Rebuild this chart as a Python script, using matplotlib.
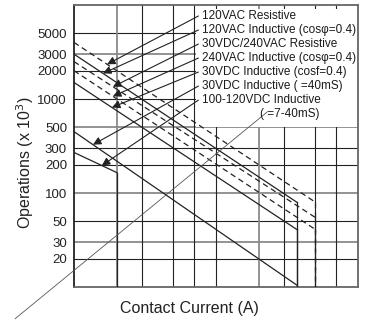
import numpy as np
import matplotlib
matplotlib.use('Agg')
from matplotlib import pyplot as plt
from matplotlib.patches import Rectangle
from matplotlib.ticker import NullLocator

plt.rcParams['font.family'] = ['Liberation Sans', 'DejaVu Sans']

# life curves: (current A, operations x10^3)
curve_x = [[1, 50], [1, 37], [1, 50], [1, 50], [1, 37], [1, 37], [1, 2]]
curve_y = [[4000, 80], [3000, 80], [2500, 55], [2000, 41], [1500, 41], [450, 10.5], [270, 165]]
curve_dashed = [True, False, True, True, False, False, False]
curve_drop = [True, True, True, True, True, False, True]

labels = ['120VAC Resistive',
          '120VAC Inductive (cosφ=0.4)',
          '30VDC/240VAC Resistive',
          '240VAC Inductive (cosφ=0.4)',
          '30VDC Inductive (cosf=0.4)',
          '30VDC Inductive ( =40mS)',
          '100-120VDC Inductive']
label_extra = '( =7-40mS)'
# current at which each label's arrow touches its curve
arrow_x = [1.71, 1.60, 1.88, 1.88, 1.85, 1.36, 1.57]

yticks = [20, 30, 50, 100, 200, 300, 500, 1000, 2000, 3000, 5000]
ygrid_gray = [30, 100, 500, 3000]
xgrid = [2, 3, 5, 7, 10, 20, 30, 50, 70]
xgrid_gray = [2, 20]

# stray thin line running across the chart
stray_x = [0.385, 23]
stray_y = [4.6, 730]

fig = plt.figure(figsize=(3.65, 3.27), dpi=100)
ax = fig.add_axes([74/365, 1-287/327, 284/365, 282/327])
ax.set_xscale('log')
ax.set_yscale('log')
ax.set_xlim(1, 100)
ax.set_ylim(10, 10000)

for v in yticks:
    if v in ygrid_gray:
        ax.axhline(v, color='#8a8a8a', lw=1.3, zorder=1)
    else:
        ax.axhline(v, color='#222222', lw=0.8, zorder=1)
for v in xgrid:
    if v in xgrid_gray:
        ax.axvline(v, color='#8a8a8a', lw=1.3, zorder=1)
    else:
        ax.axvline(v, color='#222222', lw=0.8, zorder=1)

# white label box
ax.add_patch(Rectangle((7.25, 500), 100 - 7.25, 9000 - 500, facecolor='white',
                       edgecolor='none', zorder=2))

for xs, ys, dashed, drop in zip(curve_x, curve_y, curve_dashed, curve_drop):
    kw = dict(color='#222222', lw=0.9, zorder=3)
    if dashed:
        kw['dashes'] = (4.5, 3)
    ax.plot(xs, ys, **kw)
    if drop:
        ax.plot([xs[-1], xs[-1]], [ys[-1], 10], **kw)

ax.plot(stray_x, stray_y, color='#555555', lw=0.6, clip_on=False, zorder=3)

row0 = 0.961
dy = 0.0497
for i, lab in enumerate(labels):
    xs, ys = curve_x[i], curve_y[i]
    lx = np.log10(arrow_x[i])
    ly = np.interp(lx, np.log10(xs), np.log10(ys))
    ty = row0 - i * dy
    ax.text(0.451, ty, lab, transform=ax.transAxes, fontsize=8.5,
            va='center', ha='left', color='#1a1a1a', zorder=5)
    ax.annotate('', xy=(arrow_x[i], 10**ly), xycoords='data',
                xytext=(0.438, ty), textcoords='axes fraction',
                arrowprops=dict(arrowstyle='-|>', color='#222222', lw=0.8,
                                mutation_scale=12, shrinkA=0, shrinkB=0),
                zorder=4)
ax.text(0.656, row0 - 7 * dy, label_extra, transform=ax.transAxes, fontsize=8.5,
        va='center', ha='left', color='#1a1a1a', zorder=5)

ax.xaxis.set_major_locator(NullLocator())
ax.xaxis.set_minor_locator(NullLocator())
ax.set_yticks(yticks)
ax.set_yticklabels([str(v) for v in yticks])
ax.yaxis.set_minor_locator(NullLocator())
ax.tick_params(length=0, pad=5, labelsize=9.5, labelcolor='#222222')
for s in ax.spines.values():
    s.set_color('#666666')
    s.set_linewidth(1.3)
    s.set_zorder(2.5)
ax.spines['left'].set_color('#222222')

fig.text(25/365, 1-163/327, 'Operations (x 10$^3$)', rotation=90,
         ha='center', va='center', fontsize=11.5, color='#222222')
fig.text(189/365, 1-308/327, 'Contact Current (A)', ha='center', va='center',
         fontsize=11.5, color='#222222')

fig.savefig('out.png', dpi=100)
